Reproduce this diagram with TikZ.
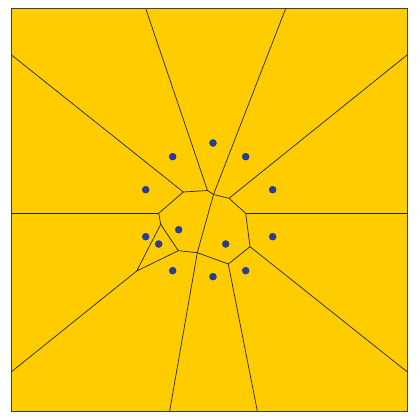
\documentclass[tikz,border=0pt]{standalone}
\begin{document}
\begin{tikzpicture}[x=1pt,y=-1pt,
  seed/.style={circle,fill=seedblue,draw=seedblue!70!black,line width=0.3pt,inner sep=0pt,minimum size=7pt},
  edge/.style={draw=black!85,line width=0.7pt}]
\definecolor{cellfill}{RGB}{255,204,0}
\definecolor{seedblue}{RGB}{40,60,160}
\useasboundingbox (0,0) rectangle (420,420);
\fill[cellfill] (11.5,8.5) rectangle (407,411);
% boundary points
\coordinate (T1) at (145.7,8.5);
\coordinate (T2) at (285.7,8.5);
\coordinate (L1) at (11.5,55);
\coordinate (L2) at (11.5,213.3);
\coordinate (L3) at (11.5,371.7);
\coordinate (R1) at (407,55);
\coordinate (R2) at (407,213.3);
\coordinate (R3) at (407,371.7);
\coordinate (B1) at (169.7,411);
\coordinate (B2) at (257.3,411);
% Voronoi vertices
\coordinate (A) at (183.3,192);
\coordinate (B) at (207.5,190.5);
\coordinate (M) at (213.5,194.5);
\coordinate (D) at (229,198.3);
\coordinate (E) at (245.7,213.3);
\coordinate (F) at (250,246.7);
\coordinate (G) at (228.3,264);
\coordinate (H) at (197.3,252.7);
\coordinate (I) at (178.3,250.7);
\coordinate (J) at (160.7,224.3);
\coordinate (K) at (158.7,213.3);
\coordinate (L) at (136.7,271);
% edges
\draw[edge] (L1) -- (A);
\draw[edge] (T1) -- (B);
\draw[edge] (T2) -- (M);
\draw[edge] (R1) -- (D);
\draw[edge] (R2) -- (E);
\draw[edge] (R3) -- (F);
\draw[edge] (B2) -- (G);
\draw[edge] (B1) -- (H);
\draw[edge] (L3) -- (L);
\draw[edge] (L2) -- (K);
\draw[edge] (A) -- (B) -- (M) -- (D) -- (E) -- (F) -- (G) -- (H) -- (I) -- (J) -- (K) -- (A);
\draw[edge] (M) -- (H);
\draw[edge] (J) -- (L) -- (I);
% border
\draw[draw=black!75,line width=0.8pt] (11.5,8.5) rectangle (407,411);
% seeds
\node[seed] (s1) at (213,143) {};
\node[seed] (s2) at (172.7,156.7) {};
\node[seed] (s3) at (245.7,156.7) {};
\node[seed] (s4) at (145.7,189.7) {};
\node[seed] (s5) at (272.7,189.7) {};
\node[seed] (s6) at (178.7,229.7) {};
\node[seed] (s7) at (145.7,236.7) {};
\node[seed] (s8) at (158.7,244) {};
\node[seed] (s9) at (225.7,244) {};
\node[seed] (s10) at (272.7,236.7) {};
\node[seed] (s11) at (172.7,270.7) {};
\node[seed] (s12) at (213,276.7) {};
\node[seed] (s13) at (245.7,270.7) {};
\end{tikzpicture}
\end{document}
